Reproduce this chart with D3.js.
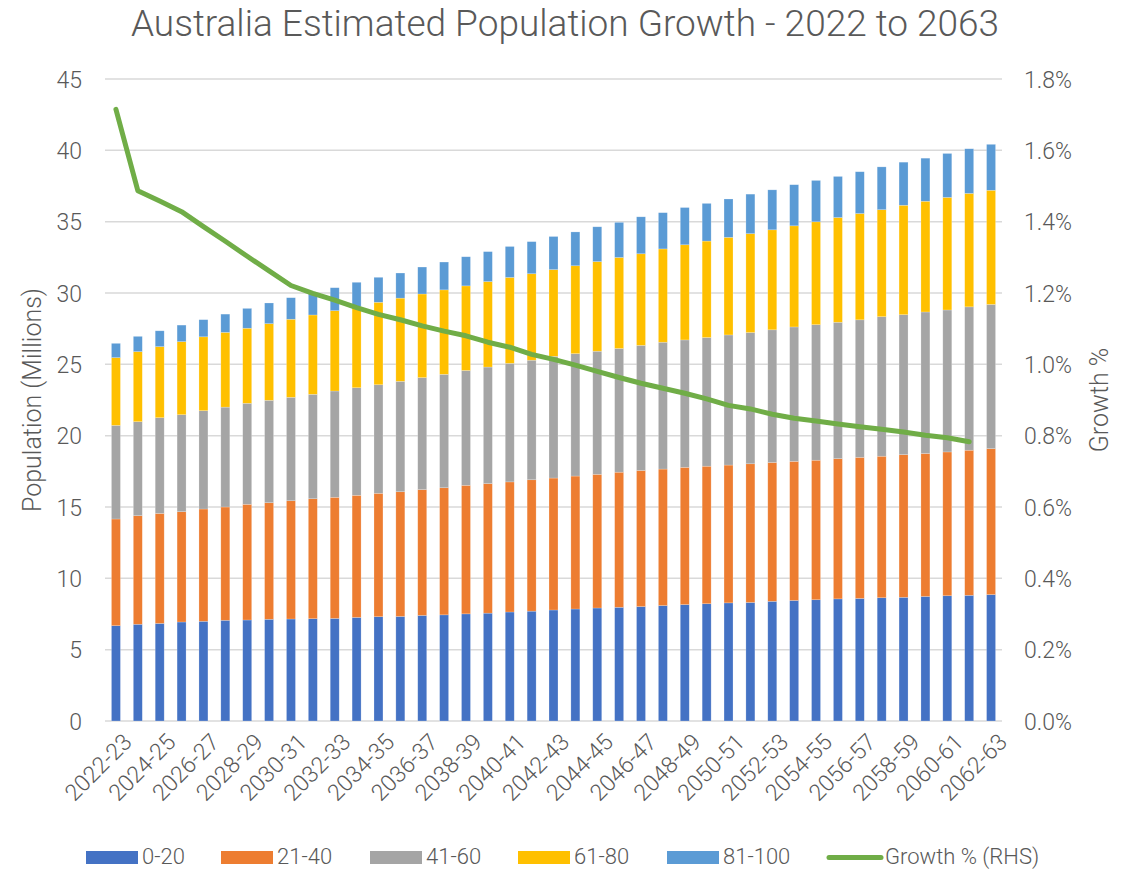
<!DOCTYPE html>
<html>
<head>
<meta charset="utf-8">
<script src="https://cdn.jsdelivr.net/npm/d3@7"></script>
<style>
  body { margin: 0; background: #fff; }
  text { font-family: "Roboto Light", Roboto, "Noto Sans", sans-serif; font-weight: 300; fill: #595959; }
</style>
</head>
<body>
<svg id="chart" width="1129" height="869"></svg>
<script>
// financial years
var years = [];
for (var y = 2022; y <= 2062; y++) years.push(y + "-" + String(y + 1).slice(2));

// population by age group (millions)
var age0_20 = [6.68,6.78,6.84,6.94,6.99,7.06,7.08,7.13,7.15,7.17,7.19,7.26,7.31,7.33,7.40,7.44,7.51,7.56,7.64,7.70,7.78,7.85,7.92,7.97,8.02,8.09,8.16,8.22,8.28,8.31,8.39,8.45,8.50,8.56,8.59,8.64,8.67,8.73,8.78,8.81,8.86];
var age21_40 = [7.48,7.61,7.71,7.73,7.87,7.94,8.11,8.17,8.29,8.41,8.49,8.56,8.65,8.74,8.82,8.91,9.01,9.08,9.12,9.21,9.25,9.32,9.37,9.47,9.54,9.57,9.62,9.64,9.66,9.72,9.73,9.75,9.78,9.83,9.89,9.92,10.00,10.02,10.08,10.17,10.23];
var age41_60 = [6.56,6.59,6.71,6.80,6.89,7.00,7.08,7.18,7.25,7.32,7.45,7.54,7.61,7.74,7.85,7.95,8.05,8.17,8.31,8.38,8.53,8.58,8.63,8.67,8.77,8.89,8.93,9.02,9.12,9.20,9.30,9.42,9.50,9.56,9.64,9.78,9.81,9.92,9.95,10.05,10.11];
var age61_80 = [4.75,4.91,4.98,5.12,5.18,5.24,5.26,5.37,5.47,5.56,5.63,5.68,5.78,5.83,5.86,5.92,5.93,5.99,6.02,6.06,6.08,6.16,6.28,6.38,6.42,6.54,6.67,6.76,6.84,6.93,7.01,7.09,7.21,7.34,7.45,7.50,7.67,7.76,7.89,7.95,8.00];
var age81_100 = [1.00,1.07,1.11,1.16,1.20,1.28,1.39,1.45,1.51,1.59,1.61,1.71,1.75,1.76,1.89,1.95,2.04,2.10,2.17,2.25,2.32,2.37,2.44,2.46,2.59,2.54,2.61,2.64,2.69,2.77,2.80,2.88,2.90,2.88,2.93,3.00,3.02,3.02,3.08,3.13,3.22];

// annual growth % (RHS), last year has no value
var growth = [1.715,1.487,1.458,1.428,1.386,1.345,1.303,1.262,1.221,1.199,1.180,1.159,1.140,1.125,1.108,1.093,1.080,1.062,1.048,1.028,1.014,0.998,0.980,0.963,0.947,0.933,0.919,0.903,0.885,0.875,0.860,0.849,0.841,0.833,0.825,0.818,0.810,0.801,0.794,0.783];

var groups = ["0-20", "21-40", "41-60", "61-80", "81-100"];
var groupData = [age0_20, age21_40, age41_60, age61_80, age81_100];
var colors = ["#4472C4", "#ED7D31", "#A5A5A5", "#FFC000", "#5B9BD5"];
var lineColor = "#70AD47";

var leftTicks = [0,5,10,15,20,25,30,35,40,45];
var rightTicks = [0,0.2,0.4,0.6,0.8,1.0,1.2,1.4,1.6,1.8];

var margin = {top: 79, left: 105, right: 127, bottom: 148};
var width = 1129, height = 869;

var svg = d3.select("#chart");

var rows = years.map(function (yr, i) {
  var r = {year: yr};
  groups.forEach(function (g, j) { r[g] = groupData[j][i]; });
  return r;
});

var x = d3.scaleBand().domain(years)
  .range([margin.left, width - margin.right])
  .paddingInner(0.59).paddingOuter(0.295);
var yL = d3.scaleLinear().domain([0, 45]).range([height - margin.bottom, margin.top]);
var yR = d3.scaleLinear().domain([0, 1.8]).range([height - margin.bottom, margin.top]);

// gridlines
svg.append("g").selectAll("line").data(leftTicks).enter().append("line")
  .attr("x1", margin.left).attr("x2", width - margin.right)
  .attr("y1", function (d) { return yL(d); }).attr("y2", function (d) { return yL(d); })
  .attr("stroke", "#d9d9d9").attr("stroke-width", 1.5);

// stacked bars
var stack = d3.stack().keys(groups)(rows);
svg.append("g").selectAll("g").data(stack).enter().append("g")
  .attr("fill", function (d, i) { return colors[i]; })
  .selectAll("rect").data(function (d) { return d; }).enter().append("rect")
  .attr("x", function (d) { return x(d.data.year); })
  .attr("width", x.bandwidth())
  .attr("y", function (d) { return yL(d[1]); })
  .attr("height", function (d) { return yL(d[0]) - yL(d[1]); })
  .attr("stroke", "#ffffff").attr("stroke-opacity", 0.35).attr("stroke-width", 0.6);

// growth line
var line = d3.line()
  .x(function (d, i) { return x(years[i]) + x.bandwidth() / 2; })
  .y(function (d) { return yR(d); });
svg.append("path").datum(growth)
  .attr("d", line).attr("fill", "none")
  .attr("stroke", lineColor).attr("stroke-width", 5)
  .attr("stroke-linejoin", "round").attr("stroke-linecap", "round");

// left axis
var axL = d3.axisLeft(yL).tickValues(leftTicks).tickSize(0).tickPadding(23);
var gL = svg.append("g").attr("transform", "translate(" + margin.left + ",0)").call(axL);
gL.select(".domain").remove();
gL.selectAll("text").style("font-size", "23px").attr("fill", "#595959").attr("dy", "0.35em");

// right axis
var axR = d3.axisRight(yR).tickValues(rightTicks).tickSize(0).tickPadding(22)
  .tickFormat(function (d) { return d.toFixed(1) + "%"; });
var gR = svg.append("g").attr("transform", "translate(" + (width - margin.right) + ",0)").call(axR);
gR.select(".domain").remove();
gR.selectAll("text").style("font-size", "23px").attr("fill", "#595959").attr("dy", "0.35em");
svg.selectAll(".tick text").attr("font-family", null);
svg.selectAll("g[font-family]").attr("font-family", null);

// x labels, every second year
svg.append("g").selectAll("text")
  .data(years.filter(function (d, i) { return i % 2 === 0; }))
  .enter().append("text")
  .attr("text-anchor", "end")
  .attr("transform", function (d) {
    return "translate(" + (x(d) + x.bandwidth() / 2 + 6) + "," + (yL(0) + 11) + ") rotate(-45)";
  })
  .attr("dy", "0.7em")
  .style("font-size", "23px")
  .text(function (d) { return d; });

// titles
svg.append("text").attr("x", 565).attr("y", 36).attr("text-anchor", "middle")
  .style("font-size", "37px")
  .text("Australia Estimated Population Growth - 2022 to 2063");
svg.append("text").attr("transform", "translate(41," + yL(22.5) + ") rotate(-90)")
  .attr("text-anchor", "middle").style("font-size", "25px")
  .text("Population (Millions)");
svg.append("text").attr("transform", "translate(1108," + yL(22.5) + ") rotate(-90)")
  .attr("text-anchor", "middle").style("font-size", "25px")
  .text("Growth %");

// legend
var legendX = [86, 221, 370, 518, 667];
var lg = svg.append("g");
groups.forEach(function (g, i) {
  lg.append("rect").attr("x", legendX[i]).attr("y", 851).attr("width", 52).attr("height", 13)
    .attr("fill", colors[i]);
  lg.append("text").attr("x", legendX[i] + 56).attr("y", 856).attr("dy", "0.35em")
    .style("font-size", "22px").text(g);
});
lg.append("line").attr("x1", 829).attr("x2", 881).attr("y1", 857.5).attr("y2", 857.5)
  .attr("stroke", lineColor).attr("stroke-width", 5).attr("stroke-linecap", "round");
lg.append("text").attr("x", 885).attr("y", 856).attr("dy", "0.35em")
  .style("font-size", "22px").text("Growth % (RHS)");
</script>
</body>
</html>
